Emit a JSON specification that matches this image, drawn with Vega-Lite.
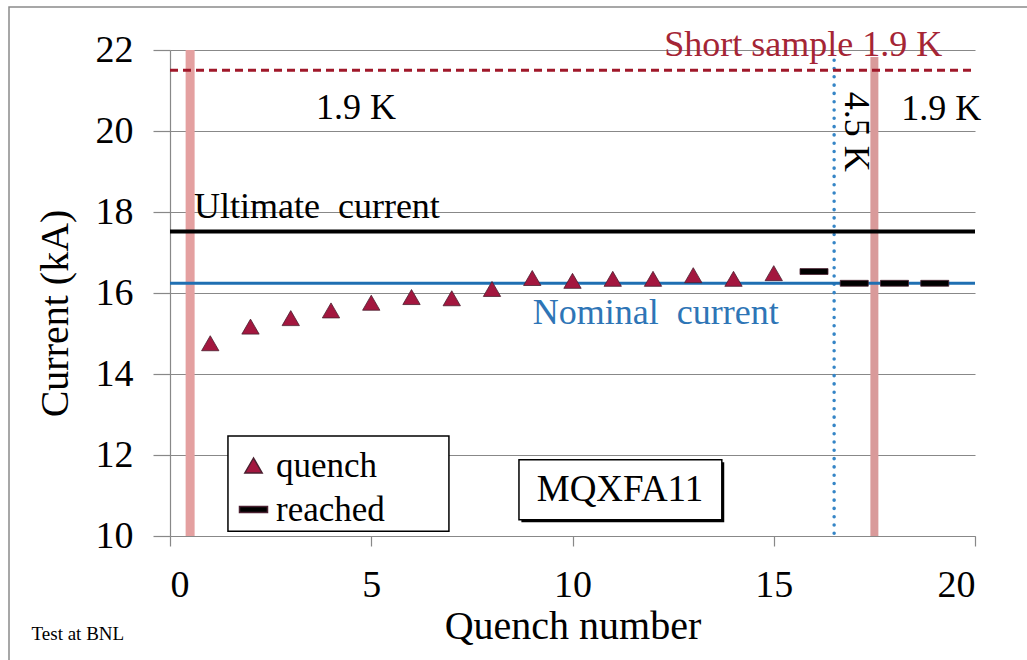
{
  "$schema": "https://vega.github.io/schema/vega-lite/v6.json",
  "width": 805,
  "height": 486,
  "autosize": {"type": "none"},
  "padding": {"left": 170, "top": 50, "right": 52, "bottom": 124},
  "background": "white",
  "data": {"values": [{}]},
  "config": {
    "view": {"stroke": null},
    "font": "Liberation Serif",
    "text": {"font": "Liberation Serif"},
    "axis": {
      "labelFont": "Liberation Serif",
      "titleFont": "Liberation Serif",
      "labelColor": "black",
      "titleColor": "black",
      "titleFontWeight": "normal",
      "domainColor": "#888888",
      "tickColor": "#888888",
      "gridColor": "#888888",
      "gridWidth": 1.2,
      "domainWidth": 1.2,
      "tickWidth": 1.2
    },
    "legend": {
      "labelFont": "Liberation Serif"
    }
  },
  "datasets": {
    "tests": [
      {"quench": 1, "current": 14.76, "type": "quench"},
      {"quench": 2, "current": 15.17, "type": "quench"},
      {"quench": 3, "current": 15.38, "type": "quench"},
      {"quench": 4, "current": 15.57, "type": "quench"},
      {"quench": 5, "current": 15.76, "type": "quench"},
      {"quench": 6, "current": 15.9, "type": "quench"},
      {"quench": 7, "current": 15.87, "type": "quench"},
      {"quench": 8, "current": 16.1, "type": "quench"},
      {"quench": 9, "current": 16.37, "type": "quench"},
      {"quench": 10, "current": 16.3, "type": "quench"},
      {"quench": 11, "current": 16.35, "type": "quench"},
      {"quench": 12, "current": 16.35, "type": "quench"},
      {"quench": 13, "current": 16.44, "type": "quench"},
      {"quench": 14, "current": 16.35, "type": "quench"},
      {"quench": 15, "current": 16.49, "type": "quench"},
      {"quench": 16, "current": 16.53, "type": "reached"},
      {"quench": 17, "current": 16.24, "type": "reached"},
      {"quench": 18, "current": 16.24, "type": "reached"},
      {"quench": 19, "current": 16.24, "type": "reached"}
    ]
  },
  "layer": [
    {
      "mark": {"type": "rect", "fill": null, "stroke": "#8a8a8a", "strokeWidth": 1.5, "clip": false},
      "encoding": {
        "x": {"datum": -4.0, "type": "quantitative"},
        "x2": {"datum": 22.5},
        "y": {"datum": 23.06, "type": "quantitative"},
        "y2": {"datum": 5.5}
      }
    },
    {
      "mark": {"type": "rule", "color": "#e4a0a0", "strokeWidth": 9},
      "encoding": {
        "x": {"datum": 0.5, "type": "quantitative"},
        "y": {"datum": 22, "type": "quantitative"},
        "y2": {"datum": 10}
      }
    },
    {
      "mark": {"type": "rule", "color": "#d99a9a", "strokeWidth": 8},
      "encoding": {
        "x": {"datum": 17.5, "type": "quantitative"},
        "y": {"datum": 21.83, "type": "quantitative"},
        "y2": {"datum": 10}
      }
    },
    {
      "mark": {"type": "rule", "color": "#3585c6", "strokeWidth": 3.5, "strokeDash": [0.1, 8.2], "strokeCap": "round"},
      "encoding": {
        "x": {"datum": 16.5, "type": "quantitative"},
        "y": {"datum": 21.75, "type": "quantitative"},
        "y2": {"datum": 10}
      }
    },
    {
      "mark": {"type": "rule", "color": "#a0182a", "strokeWidth": 3, "strokeDash": [8, 5]},
      "encoding": {
        "y": {"datum": 21.5, "type": "quantitative"},
        "x": {"datum": 0, "type": "quantitative"},
        "x2": {"datum": 20}
      }
    },
    {
      "mark": {"type": "rule", "color": "black", "strokeWidth": 4},
      "encoding": {
        "y": {"datum": 17.52, "type": "quantitative"},
        "x": {"datum": 0, "type": "quantitative"},
        "x2": {"datum": 20}
      }
    },
    {
      "mark": {"type": "rule", "color": "#1f6fb2", "strokeWidth": 3},
      "encoding": {
        "y": {"datum": 16.24, "type": "quantitative"},
        "x": {"datum": 0, "type": "quantitative"},
        "x2": {"datum": 20}
      }
    },
    {
      "mark": {"type": "rect", "fill": "white", "stroke": "black", "strokeWidth": 1.5},
      "encoding": {
        "x": {"datum": 1.44, "type": "quantitative"},
        "x2": {"datum": 6.93},
        "y": {"datum": 12.47, "type": "quantitative"},
        "y2": {"datum": 10.12}
      }
    },
    {
      "data": {"name": "tests"},
      "mark": {"type": "point", "filled": true, "opacity": 1, "stroke": "#4a2030", "strokeWidth": 0.8},
      "encoding": {
        "x": {
          "field": "quench", "type": "quantitative",
          "scale": {"domain": [0, 20], "nice": false},
          "axis": {
            "values": [0, 5, 10, 15, 20],
            "grid": false,
            "tickSize": 10,
            "labelFontSize": 38,
            "labelPadding": 20,
            "title": "Quench number",
            "titleFontSize": 40,
            "titlePadding": 2
          }
        },
        "y": {
          "field": "current", "type": "quantitative",
          "scale": {"domain": [10, 22], "nice": false, "zero": false},
          "axis": {
            "values": [10, 12, 14, 16, 18, 20, 22],
            "grid": true,
            "tickSize": 17,
            "labelFontSize": 38,
            "labelPadding": 20,
            "title": "Current (kA)",
            "titleFontSize": 40,
            "titlePadding": 20,
            "titleY": 263
          }
        },
        "color": {
          "field": "type", "type": "nominal",
          "scale": {"domain": ["quench", "reached"], "range": ["#a3173f", "#000000"]},
          "legend": {
            "orient": "none",
            "legendX": 58,
            "legendY": 390,
            "title": null,
            "padding": 8,
            "strokeColor": null,
            "fillColor": null,
            "labelFontSize": 35,
            "rowPadding": 8,
            "labelOffset": 5
          }
        },
        "shape": {
          "field": "type", "type": "nominal",
          "scale": {"domain": ["quench", "reached"], "range": ["triangle-up", "M-1,-0.21L1,-0.21L1,0.21L-1,0.21Z"]}
        },
        "size": {
          "field": "type", "type": "nominal",
          "scale": {"domain": ["quench", "reached"], "range": [300, 784]}
        }
      }
    },
    {
      "mark": {"type": "text", "text": "Short sample 1.9 K", "color": "#a52535", "fontSize": 36, "align": "center", "baseline": "middle"},
      "encoding": {"x": {"datum": 15.73, "type": "quantitative"}, "y": {"datum": 22.12, "type": "quantitative"}}
    },
    {
      "mark": {"type": "text", "text": "1.9 K", "color": "black", "fontSize": 36, "align": "center", "baseline": "middle"},
      "encoding": {"x": {"datum": 4.62, "type": "quantitative"}, "y": {"datum": 20.58, "type": "quantitative"}}
    },
    {
      "mark": {"type": "text", "text": "1.9 K", "color": "black", "fontSize": 36, "align": "center", "baseline": "middle"},
      "encoding": {"x": {"datum": 19.16, "type": "quantitative"}, "y": {"datum": 20.55, "type": "quantitative"}}
    },
    {
      "mark": {"type": "text", "text": "4.5 K", "color": "black", "fontSize": 36, "align": "center", "baseline": "middle", "angle": 90},
      "encoding": {"x": {"datum": 17.04, "type": "quantitative"}, "y": {"datum": 19.98, "type": "quantitative"}}
    },
    {
      "mark": {"type": "text", "text": "Ultimate \u00a0current", "color": "black", "fontSize": 36, "align": "center", "baseline": "middle"},
      "encoding": {"x": {"datum": 3.65, "type": "quantitative"}, "y": {"datum": 18.12, "type": "quantitative"}}
    },
    {
      "mark": {"type": "text", "text": "Nominal \u00a0current", "color": "#2e75b6", "fontSize": 36, "align": "center", "baseline": "middle"},
      "encoding": {"x": {"datum": 12.07, "type": "quantitative"}, "y": {"datum": 15.5, "type": "quantitative"}}
    },
    {
      "mark": {"type": "rect", "fill": "black", "clip": false},
      "encoding": {
        "x": {"datum": 8.73, "type": "quantitative"},
        "x2": {"datum": 13.77},
        "y": {"datum": 11.82, "type": "quantitative"},
        "y2": {"datum": 10.34}
      }
    },
    {
      "mark": {"type": "rect", "fill": "white", "stroke": "black", "strokeWidth": 1.5},
      "encoding": {
        "x": {"datum": 8.67, "type": "quantitative"},
        "x2": {"datum": 13.71},
        "y": {"datum": 11.88, "type": "quantitative"},
        "y2": {"datum": 10.4}
      }
    },
    {
      "mark": {"type": "text", "text": "MQXFA11", "color": "black", "fontSize": 37, "align": "center", "baseline": "middle"},
      "encoding": {"x": {"datum": 11.18, "type": "quantitative"}, "y": {"datum": 11.14, "type": "quantitative"}}
    },
    {
      "mark": {"type": "text", "text": "Test at BNL", "color": "black", "fontSize": 19, "align": "center", "baseline": "middle", "clip": false, "font": "Liberation Serif"},
      "encoding": {"x": {"datum": -2.29, "type": "quantitative"}, "y": {"datum": 7.58, "type": "quantitative"}}
    }
  ]
}
